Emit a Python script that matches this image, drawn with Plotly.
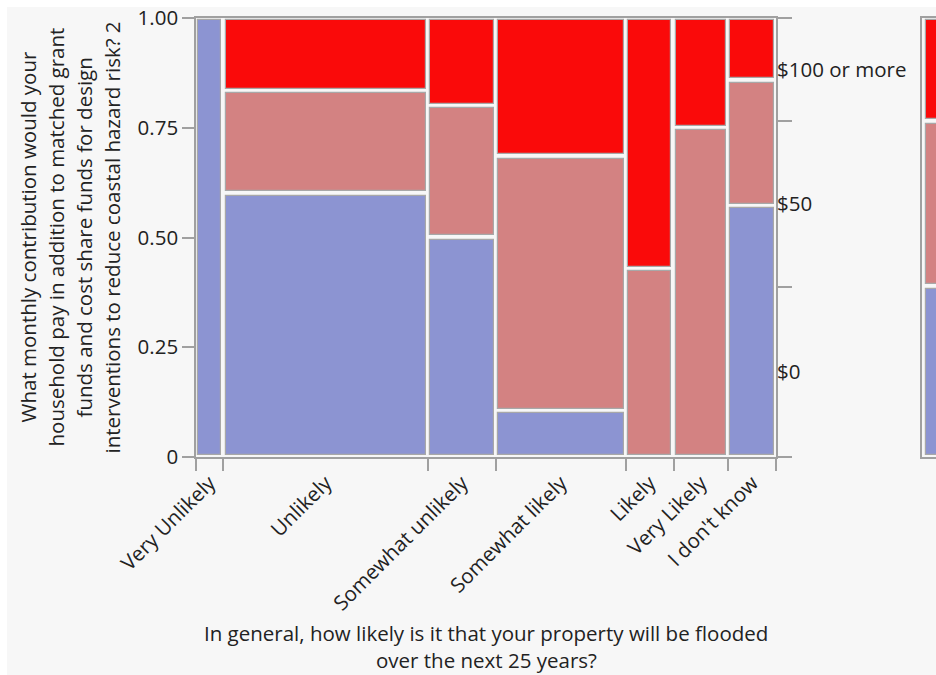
import plotly.graph_objects as go

# ---------------- data (counts read from the mosaic) ----------------
categories = ["Very Unlikely", "Unlikely", "Somewhat unlikely", "Somewhat likely",
              "Likely", "Very Likely", "I don't know"]
levels = ["$0", "$50", "$100 or more"]
count_0 = [4, 18, 5, 2, 0, 0, 4]
count_50 = [0, 7, 3, 11, 3, 6, 2]
count_100 = [0, 5, 2, 6, 4, 2, 1]
y_tickvals = [0, 0.25, 0.5, 0.75, 1.0]
y_ticktext = ["0", "0.25", "0.50", "0.75", "1.00"]
level_colors = ["#8C94D2", "#D38282", "#FA0A0A"]

FONT = "Open Sans, Segoe UI, sans-serif"
FS = 20.5
TXT = "#222222"
GRID = "#A0A0A0"

W, H = 936, 675
L, T, B, R = 196, 18, 218, 0
PW = W - L - R
PH = H - T - B
main_w = 580
panel_x0 = 922

series = [count_0, count_50, count_100]
totals = [sum(s[i] for s in series) for i in range(len(categories))]
N = sum(totals)

gx = 4.5 / main_w
gy = 4.5 / PH

xs = []
acc = 0.0
for t in totals:
    xs.append(acc)
    acc += t / N
bounds = xs + [1.0]
centers = [xs[i] + totals[i] / N / 2 for i in range(len(categories))]

fig = go.Figure()

base_y = [0.0] * len(categories)
for k, s in enumerate(series):
    bx, bw, bb, bh = [], [], [], []
    for i in range(len(categories)):
        h = s[i] / totals[i]
        if s[i] > 0:
            bx.append(centers[i])
            bw.append(totals[i] / N - gx)
            bb.append(base_y[i] + gy / 2)
            bh.append(h - gy)
        base_y[i] += h
    fig.add_trace(go.Bar(x=bx, y=bh, base=bb, width=bw, marker_color=level_colors[k],
                         marker_line_color="#A8A8A8", marker_line_width=1.2,
                         name=levels[k], showlegend=False, hoverinfo="skip",
                         xaxis="x", yaxis="y"))

# marginal distribution (right-hand panel)
marg = [sum(s) / N for s in series]
mcum = [0.0]
for m in marg:
    mcum.append(mcum[-1] + m)
mmid = [(mcum[i] + mcum[i + 1]) / 2 for i in range(len(marg))]
for k in range(len(levels)):
    fig.add_trace(go.Bar(x=[3.5 + 20], y=[marg[k] - gy], base=[mcum[k] + gy / 2], width=[40],
                         marker_color=level_colors[k], marker_line_color="#A8A8A8",
                         marker_line_width=1.2, showlegend=False, hoverinfo="skip",
                         xaxis="x2", yaxis="y3"))

# dummy traces so overlay axes are drawn
for xa, ya in [("x3", "y"), ("x", "y2"), ("x", "y4")]:
    fig.add_trace(go.Scatter(x=[0.5], y=[0.5], mode="markers", marker_opacity=0,
                             showlegend=False, hoverinfo="skip", xaxis=xa, yaxis=ya))

dom_main = [0, main_w / PW]
dom_panel = [(panel_x0 - L) / PW, 1]

fig.update_layout(
    width=W, height=H, autosize=False,
    margin=dict(l=L, r=R, t=T, b=B, pad=0),
    paper_bgcolor="white", plot_bgcolor="white",
    barmode="overlay", bargap=0,
    font=dict(family=FONT, size=FS, color=TXT),
    xaxis=dict(domain=dom_main, range=[0, 1], tickvals=bounds, ticktext=[""] * len(bounds),
               ticks="outside", ticklen=12, tickcolor=GRID, tickwidth=1.5,
               showline=True, linecolor=GRID, linewidth=1.5, mirror=True,
               showgrid=False, zeroline=False, fixedrange=True),
    xaxis3=dict(overlaying="x", anchor="y", side="bottom", range=[0, 1],
                tickvals=centers, ticktext=categories, tickangle=-45,
                ticks="outside", ticklen=5, tickcolor="rgba(0,0,0,0)",
                tickfont=dict(family=FONT, size=FS, color=TXT),
                showline=False, showgrid=False, zeroline=False),
    yaxis=dict(domain=[0, 1], range=[0, 1], tickvals=y_tickvals, ticktext=y_ticktext,
               ticks="outside", ticklen=12, tickcolor=GRID, tickwidth=1.5,
               showline=True, linecolor=GRID, linewidth=1.5,
               showgrid=False, zeroline=False,
               tickfont=dict(family=FONT, size=FS, color=TXT)),
    yaxis2=dict(overlaying="y", anchor="x", side="right", range=[0, 1],
                tickvals=mcum, ticktext=[""] * len(mcum),
                ticks="outside", ticklen=14, tickcolor=GRID, tickwidth=1.5,
                showline=True, linecolor=GRID, linewidth=1.5,
                showgrid=False, zeroline=False),
    yaxis4=dict(overlaying="y", anchor="x", side="right", range=[0, 1],
                tickvals=mmid, ticktext=levels, ticks="",
                tickfont=dict(family=FONT, size=FS, color=TXT),
                showline=False, showgrid=False, zeroline=False),
    xaxis2=dict(domain=dom_panel, anchor="y3", range=[0, 14], showticklabels=False, ticks="",
                showline=True, linecolor=GRID, linewidth=1.5, mirror=True,
                showgrid=False, zeroline=False),
    yaxis3=dict(domain=[0, 1], anchor="x2", range=[0, 1], showticklabels=False, ticks="",
                showline=True, linecolor=GRID, linewidth=1.5,
                showgrid=False, zeroline=False),
)

# grey panel background
fig.add_shape(type="rect", xref="paper", yref="paper",
              x0=(7 - L) / PW, x1=1.05, y0=-(H - T - PH + 20) / PH, y1=(PH + T - 7) / PH,
              fillcolor="#F7F7F7", line_width=0, layer="below")

def px_x(px):
    return (px - L) / PW

def px_y(py):
    return (T + PH - py) / PH

ytitle = ["What monthly contribution would your",
          "household pay in addition to matched grant",
          "funds and cost share funds for design",
          "interventions to reduce coastal hazard risk? 2"]
for j, line in enumerate(ytitle):
    fig.add_annotation(text=line, xref="paper", yref="paper", x=px_x(27 + 28 * j), y=0.5,
                       xanchor="center", yanchor="middle", textangle=-90, showarrow=False,
                       font=dict(family=FONT, size=FS, color=TXT))

xtitle = ["In general, how likely is it that your property will be flooded",
          "over the next 25 years?"]
for j, line in enumerate(xtitle):
    fig.add_annotation(text=line, xref="paper", yref="paper", x=px_x(486), y=px_y(633 + 27 * j),
                       xanchor="center", yanchor="middle", showarrow=False,
                       font=dict(family=FONT, size=FS, color=TXT))

fig.write_html("out.html", config={"displayModeBar": False},
               post_script="document.body.style.margin='0';document.body.style.overflow='hidden';")
